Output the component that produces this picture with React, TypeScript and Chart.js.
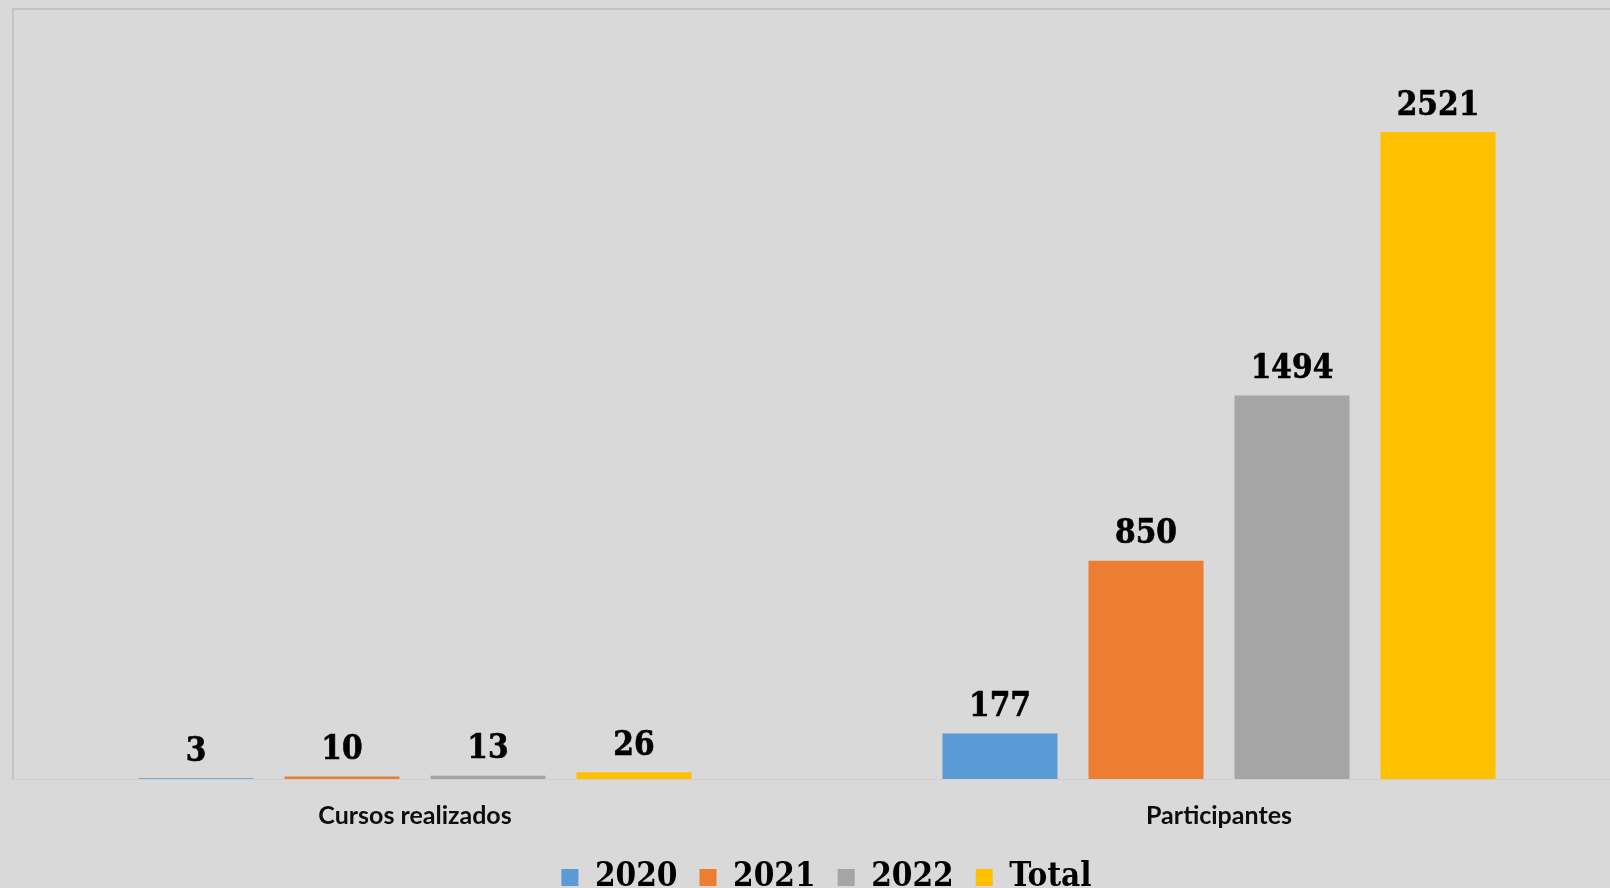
import React, { useEffect, useRef } from "react";
import { Chart, registerables } from "chart.js";

Chart.register(...registerables);

const categories = ["Cursos realizados", "Participantes"];
const seriesNames = ["2020", "2021", "2022", "Total"];
const values2020 = [3, 177];
const values2021 = [10, 850];
const values2022 = [13, 1494];
const valuesTotal = [26, 2521];
const colors = ["#5B9BD5", "#ED7D31", "#A5A5A5", "#FFC000"];
const yMax = 3000;

const serifFamily = '"DejaVu Serif Condensed", "DejaVu Serif", serif';

const bgPlugin = {
  id: "bgAndFrame",
  beforeDraw(chart: any) {
    const { ctx, chartArea, width, height } = chart;
    ctx.save();
    ctx.fillStyle = "#D9D9D9";
    ctx.fillRect(0, 0, width, height);
    ctx.strokeStyle = "#C4C4C4";
    ctx.lineWidth = 2;
    ctx.beginPath();
    ctx.moveTo(chartArea.left, chartArea.bottom + 1);
    ctx.lineTo(chartArea.left, chartArea.top);
    ctx.lineTo(width, chartArea.top);
    ctx.stroke();
    ctx.strokeStyle = "#CFCFCF";
    ctx.lineWidth = 1;
    ctx.beginPath();
    ctx.moveTo(chartArea.left, chartArea.bottom + 0.5);
    ctx.lineTo(width, chartArea.bottom + 0.5);
    ctx.stroke();
    ctx.restore();
  },
};

const labelPlugin = {
  id: "valueLabels",
  afterDatasetsDraw(chart: any) {
    const { ctx } = chart;
    ctx.save();
    ctx.font = `bold 33px ${serifFamily}`;
    ctx.fillStyle = "#000000";
    ctx.strokeStyle = "#000000";
    ctx.lineWidth = 0.6;
    ctx.textAlign = "center";
    ctx.textBaseline = "middle";
    chart.data.datasets.forEach((ds: any, i: number) => {
      const meta = chart.getDatasetMeta(i);
      meta.data.forEach((el: any, j: number) => {
        const t = String(ds.data[j]);
        ctx.fillText(t, el.x, el.y - 26);
        ctx.strokeText(t, el.x, el.y - 26);
      });
    });
    ctx.restore();
  },
};

export default function App() {
  const ref = useRef<HTMLCanvasElement>(null);
  useEffect(() => {
    document.body.style.margin = "0";
    document.body.style.background = "#D9D9D9";
    const seriesValues = [values2020, values2021, values2022, valuesTotal];
    const chart = new Chart(ref.current as HTMLCanvasElement, {
      type: "bar",
      data: {
        labels: categories,
        datasets: seriesNames.map((name, i) => ({
          label: name,
          data: seriesValues[i],
          backgroundColor: colors[i],
          borderWidth: 0,
          categoryPercentage: 0.7264,
          barPercentage: 0.7877,
        })),
      },
      options: {
        responsive: false,
        animation: false,
        devicePixelRatio: 1,
        layout: { padding: { left: 13, top: 9, right: 0, bottom: 0 } },
        plugins: {
          tooltip: { enabled: false },
          legend: {
            position: "bottom",
            labels: {
              boxWidth: 17,
              boxHeight: 17,
              padding: 22,
              color: "#000000",
              font: { family: serifFamily, size: 33, weight: "bold" },
            },
          },
        },
        scales: {
          x: {
            grid: { display: false, drawTicks: false, tickLength: 0 },
            border: { display: false },
            ticks: {
              padding: 22,
              color: "#0D0D0D",
              font: { family: "Lato", size: 25, weight: "bold" },
            },
            afterFit: (s: any) => {
              s.height = 60;
            },
          },
          y: {
            display: false,
            min: 0,
            max: yMax,
          },
          y2: {
            display: true,
            position: "right",
            grid: { display: false, drawTicks: false },
            border: { display: false },
            ticks: { display: false },
            afterFit: (s: any) => {
              s.width = 19;
            },
          },
        },
      },
      plugins: [bgPlugin, labelPlugin],
    });
    return () => chart.destroy();
  }, []);
  return (
    <div style={{ width: 1610, height: 888, overflow: "hidden", position: "relative", background: "#D9D9D9" }}>
      <canvas ref={ref} width={1640} height={904} style={{ display: "block" }} />
    </div>
  );
}
